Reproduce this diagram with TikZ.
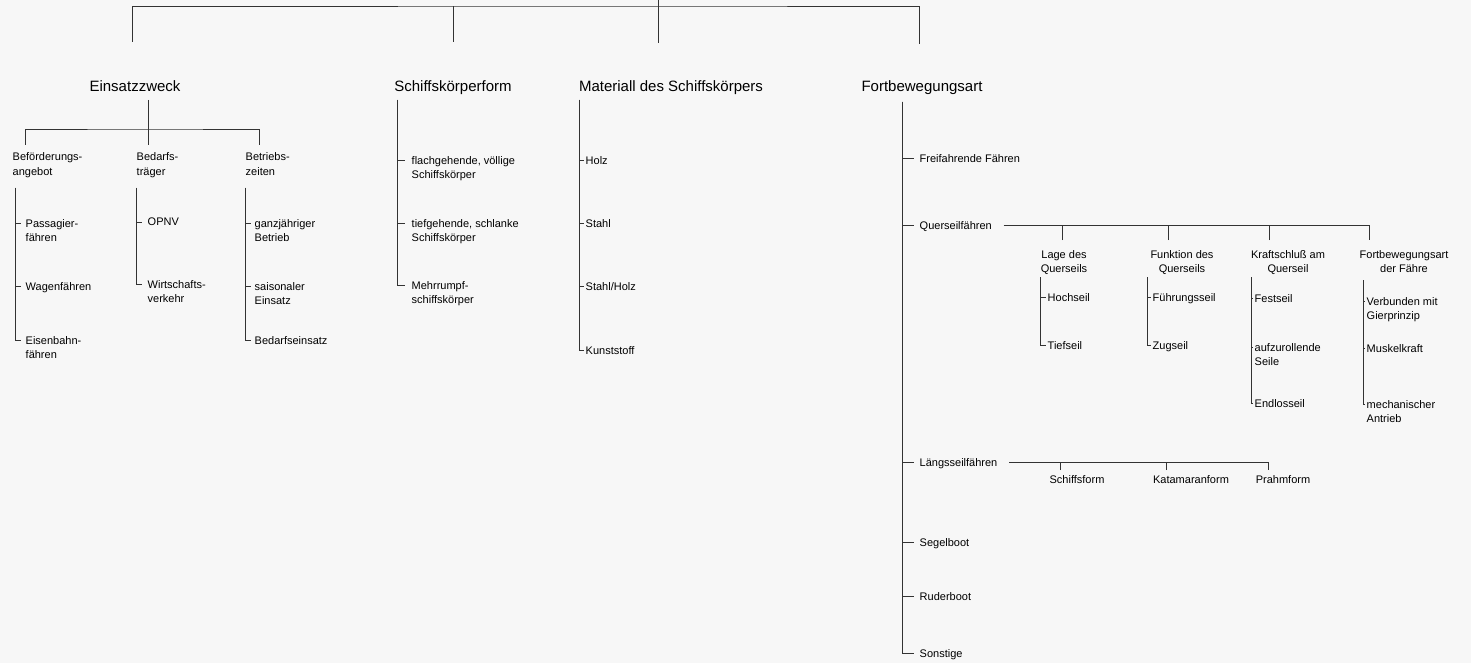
\documentclass[tikz,border=0pt]{standalone}
\usepackage{fontspec}
\setmainfont{Liberation Sans}
\begin{document}
\begin{tikzpicture}[x=1pt,y=-1pt,
  linie/.style={line width=0.9pt,color=black!80},
  kopf/.style={font=\fontsize{15}{17}\selectfont,text=black,inner sep=0pt},
  klein/.style={font=\fontsize{11}{14.5}\selectfont,text=black,align=left,inner sep=1.5pt},
  mitte/.style={klein,align=center}]
\path[use as bounding box,fill=black!3] (0,0) rectangle (1471,663);

\def\luecke{0pt}
\def\blatt#1#2#3#4{%
\node[klein,anchor=north west,yshift=9.5pt] (#2) at #3 {#4};
\draw[linie,shorten >=\luecke] (#1) |- ([yshift=-6pt]#2.north west);
}

% oberste Ebene
\coordinate (W) at (658,0);
\coordinate (K) at (658,6);
\coordinate (d1) at (132,42);
\coordinate (d2) at (453,42);
\coordinate (d3) at (658,43);
\coordinate (d4) at (919,44);
\draw[linie] (d1) |- (K) -| (d4);
\draw[linie] (W) -- (d3);
\draw[linie] (d2) -- (d2 |- K);

\node[kopf,anchor=base] (ez) at (135,92) {Einsatzzweck};
\node[kopf,anchor=base] (sf) at (453,92) {Schiffskörperform};
\node[kopf,anchor=base] (mat) at (671,92) {Materiall des Schiffskörpers};
\node[kopf,anchor=base] (fb) at (922,92) {Fortbewegungsart};

% Einsatzzweck
\coordinate (ez0) at (148,100);
\coordinate (ezb) at (148,129);
\coordinate (e1) at (25,145);
\coordinate (e2) at (148,145);
\coordinate (e3) at (259,145);
\draw[linie] (ez0) -- (e2);
\draw[linie] (e1) |- (ezb) -| (e3);

\node[klein,anchor=base west] (bf) at (11,175.5) {Beförderungs-\\angebot};
\node[klein,anchor=base west] (bt) at (135,175.5) {Bedarfs-\\träger};
\node[klein,anchor=base west] (bz) at (244,175.5) {Betriebs-\\zeiten};

\def\luecke{3pt}
\coordinate (b0) at (15,188);
\blatt{b0}{pf}{(24,227)}{Passagier-\\fähren}
\blatt{b0}{wf}{(24,290)}{Wagenfähren}
\blatt{b0}{ef}{(24,344)}{Eisenbahn-\\fähren}

\def\luecke{4pt}
\coordinate (t0) at (136,188);
\blatt{t0}{op}{(146,226)}{OPNV}
\blatt{t0}{wv}{(146,288)}{Wirtschafts-\\verkehr}

\def\luecke{2pt}
\coordinate (z0) at (245,188);
\blatt{z0}{gb}{(253,227)}{ganzjähriger\\Betrieb}
\blatt{z0}{se}{(253,290)}{saisonaler\\Einsatz}
\blatt{z0}{be}{(253,344)}{Bedarfseinsatz}

% Schiffskoerperform
\def\luecke{5pt}
\coordinate (s0) at (397,100);
\blatt{s0}{fl}{(410,164)}{flachgehende, völlige\\Schiffskörper}
\blatt{s0}{tg}{(410,227)}{tiefgehende, schlanke\\Schiffskörper}
\blatt{s0}{mr}{(410,289)}{Mehrrumpf-\\schiffskörper}

% Material
\def\luecke{0pt}
\coordinate (m0) at (579,100);
\blatt{m0}{ho}{(584,164)}{Holz}
\blatt{m0}{st}{(584,227)}{Stahl}
\blatt{m0}{sh}{(584,290)}{Stahl/Holz}
\blatt{m0}{ku}{(584,354)}{Kunststoff}

% Fortbewegungsart
\def\luecke{4pt}
\coordinate (f0) at (902,102);
\blatt{f0}{ff}{(918,162)}{Freifahrende Fähren}
\blatt{f0}{qs}{(918,229)}{Querseilfähren}
\blatt{f0}{ls}{(918,466)}{Längsseilfähren}
\blatt{f0}{sb}{(918,546)}{Segelboot}
\blatt{f0}{rb}{(918,600)}{Ruderboot}
\blatt{f0}{so}{(918,657)}{Sonstige}

% Querseilfaehren
\coordinate (qb) at ([yshift=-6pt]qs.north east);
\coordinate (q1) at (1062,240);
\coordinate (q2) at (1168,240);
\coordinate (q3) at (1269,240);
\coordinate (q4) at (1369,240);
\draw[linie,shorten <=10pt] (qb) -| (q4);
\foreach \q in {q1,q2,q3}
  \draw[linie] (\q) -- (\q |- qb);

\node[mitte,anchor=base] (lq) at (1064,272.5) {Lage des\\Querseils};
\node[mitte,anchor=base] (fq) at (1182,272.5) {Funktion des\\Querseils};
\node[mitte,anchor=base] (kq) at (1288,272.5) {Kraftschluß am\\Querseil};
\node[mitte,anchor=base] (fa) at (1404,272.5) {Fortbewegungsart\\der Fähre};

\def\luecke{0pt}
\coordinate (l0) at (1040,277);
\blatt{l0}{hs}{(1046,301)}{Hochseil}
\blatt{l0}{ts}{(1046,349)}{Tiefseil}

\coordinate (u0) at (1147,277);
\blatt{u0}{fs}{(1151,301)}{Führungsseil}
\blatt{u0}{zs}{(1151,349)}{Zugseil}

\coordinate (k0) at (1251,277);
\blatt{k0}{fe}{(1253,302)}{Festseil}
\blatt{k0}{au}{(1253,351)}{aufzurollende\\Seile}
\blatt{k0}{en}{(1253,407)}{Endlosseil}

\coordinate (a0) at (1363,280);
\blatt{a0}{vg}{(1365,305)}{Verbunden mit\\Gierprinzip}
\blatt{a0}{mk}{(1365,352)}{Muskelkraft}
\blatt{a0}{ma}{(1365,408)}{mechanischer\\Antrieb}

% Laengsseilfaehren
\coordinate (lb) at ([yshift=-6pt]ls.north east);
\coordinate (g1) at (1060,470);
\coordinate (g2) at (1166,470);
\coordinate (g3) at (1268,470);
\draw[linie,shorten <=10pt] (lb) -| (g3);
\foreach \g in {g1,g2}
  \draw[linie] (\g) -- (\g |- lb);

\node[klein,anchor=base] (sfm) at (1077,483) {Schiffsform};
\node[klein,anchor=base] (kat) at (1191,483) {Katamaranform};
\node[klein,anchor=base] (pra) at (1283,483) {Prahmform};

\end{tikzpicture}
\end{document}
